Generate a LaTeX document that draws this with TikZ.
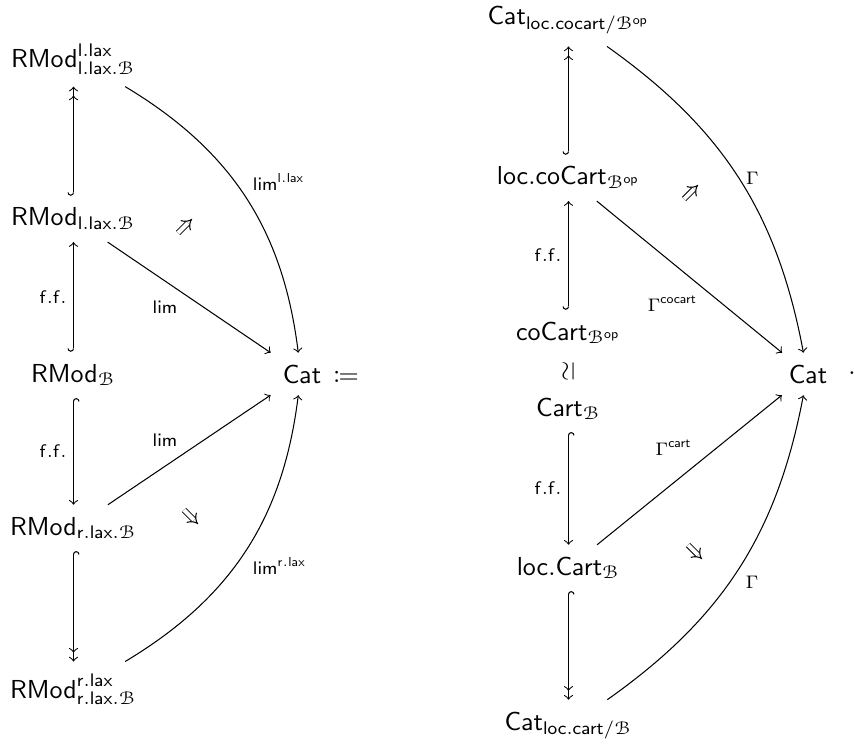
\documentclass[tikz,border=0pt]{standalone}
\usepackage{amsmath}
\usepackage{mathtools}
\usepackage{eucal}
\usepackage{tikz}
\usetikzlibrary{arrows.meta}
\tikzstyle{obj} = [inner sep=4.5pt]
\tikzstyle{arrow} = [->, >=to]
\tikzstyle{hookarrow} = [{Hooks[right]}->, >=to]
\tikzstyle{hooktwo} = [{Hooks[right]}-{>[sep=1.6pt]>}, >=to]
\tikzstyle{lbl} = [font=\scriptsize, inner sep=2.5pt]
\tikzstyle{twocell} = [double, double distance=1.5pt, -{Implies}]

\begin{document}
\begin{tikzpicture}[x=0.3846pt, y=-0.3846pt]
    \useasboundingbox (0,0) rectangle (855,744);
    % left diagram
    \node (L1) [obj, anchor=base] at (73.5,68) {$\mathsf{RMod}^{\mathsf{l.lax}}_{\mathsf{l.lax}.\mathcal{B}}$};
    \node (L2) [obj, anchor=base] at (73.5,226) {$\mathsf{RMod}_{\mathsf{l.lax}.\mathcal{B}}$};
    \node (L3) [obj, anchor=base] at (73.5,382) {$\mathsf{RMod}_{\mathcal{B}}$};
    \node (L4) [obj, anchor=base] at (73.5,535) {$\mathsf{RMod}_{\mathsf{r.lax}.\mathcal{B}}$};
    \node (L5) [obj, anchor=base] at (73.5,698) {$\mathsf{RMod}^{\mathsf{r.lax}}_{\mathsf{r.lax}.\mathcal{B}}$};
    \node (CatL) [obj, anchor=base] at (302,383) {$\mathsf{Cat}$};
    \node (def) [anchor=base] at (346,383) {$\coloneqq$};
    % right diagram
    \node (R1) [obj, anchor=base] at (568.5,25) {$\mathsf{Cat}_{\mathsf{loc.cocart}/\mathcal{B}^{\mathsf{op}}}$};
    \node (R2) [obj, anchor=base] at (568.5,185) {$\mathsf{loc.coCart}_{\mathcal{B}^{\mathsf{op}}}$};
    \node (R3) [obj, anchor=base] at (568.5,340) {$\mathsf{coCart}_{\mathcal{B}^{\mathsf{op}}}$};
    \node (R4) [obj, anchor=base] at (568.5,416) {$\mathsf{Cart}_{\mathcal{B}}$};
    \node (R5) [obj, anchor=base] at (568.5,575) {$\mathsf{loc.Cart}_{\mathcal{B}}$};
    \node (R6) [obj, anchor=base] at (568.5,730) {$\mathsf{Cat}_{\mathsf{loc.cart}/\mathcal{B}}$};
    \node (CatR) [obj, anchor=base] at (808,383) {$\mathsf{Cat}$};
    \node (dot) at (852,373) {$.$};

    \coordinate (a1) at (178,233); \coordinate (a2) at (192,219);
    \coordinate (b1) at (184,510); \coordinate (b2) at (198,524);
    \coordinate (c1) at (684,199); \coordinate (c2) at (698,185);
    \coordinate (d1) at (688,545); \coordinate (d2) at (702,559);

    \draw [hooktwo] (L2) -- (L1);
    \draw [hookarrow] (L3) -- node[lbl, anchor=east] {$\mathsf{f.f.}$} (L2);
    \draw [hookarrow] (L3) -- node[lbl, anchor=east] {$\mathsf{f.f.}$} (L4);
    \draw [hooktwo] (L4) -- (L5);
    \draw [arrow] (L2) -- node[lbl, pos=0.47, anchor=north east] {$\mathsf{lim}$} (CatL);
    \draw [arrow] (L4) -- node[lbl, pos=0.47, anchor=south east] {$\mathsf{lim}$} (CatL);
    \draw [arrow] (L1) to[bend left=26] node[lbl, pos=0.5, anchor=south west] {$\mathsf{lim}^{\mathsf{l.lax}}$} (CatL);
    \draw [arrow] (L5) to[bend right=26] node[lbl, pos=0.5, anchor=north west] {$\mathsf{lim}^{\mathsf{r.lax}}$} (CatL);
    \draw [twocell] (a1) -- (a2);
    \draw [twocell] (b1) -- (b2);

    \draw [hooktwo] (R2) -- (R1);
    \draw [hookarrow] (R3) -- node[lbl, anchor=east] {$\mathsf{f.f.}$} (R2);
    \path (R3) -- node[rotate=90] {$\simeq$} (R4);
    \draw [hookarrow] (R4) -- node[lbl, anchor=east] {$\mathsf{f.f.}$} (R5);
    \draw [hooktwo] (R5) -- (R6);
    \draw [arrow] (R2) -- node[lbl, pos=0.58, anchor=north east] {$\Gamma^{\mathsf{cocart}}$} (CatR);
    \draw [arrow] (R5) -- node[lbl, pos=0.55, anchor=south east] {$\Gamma^{\mathsf{cart}}$} (CatR);
    \draw [arrow] (R1) to[bend left=22] node[lbl, pos=0.5, anchor=west] {$\Gamma$} (CatR);
    \draw [arrow] (R6) to[bend right=22] node[lbl, pos=0.5, anchor=north west] {$\Gamma$} (CatR);
    \draw [twocell] (c1) -- (c2);
    \draw [twocell] (d1) -- (d2);
\end{tikzpicture}
\end{document}
